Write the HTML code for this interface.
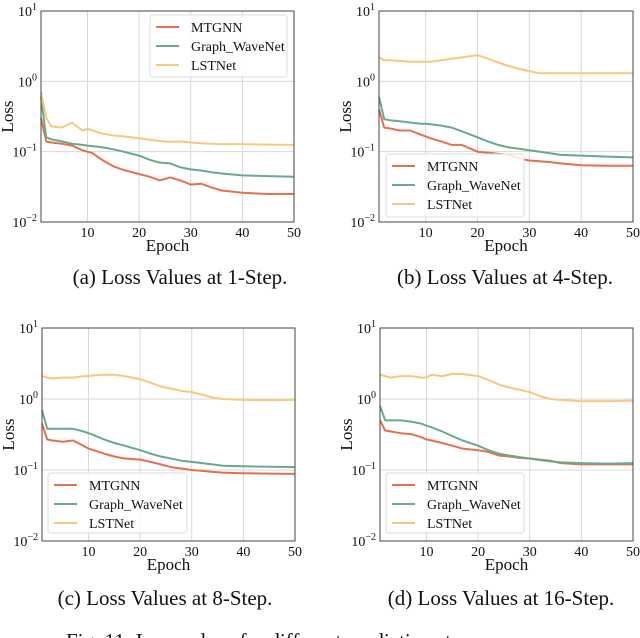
<!DOCTYPE html>
<html><head><meta charset="utf-8"><style>
html,body{margin:0;padding:0;background:#fff;}
svg{display:block;font-family:"Liberation Serif",serif;}
</style></head><body>
<svg id="fig" width="640" height="638" viewBox="0 0 640 638" xmlns="http://www.w3.org/2000/svg"></svg>
<script>
const epochs=[1,2,3,5,7,9,10,11,13,15,17,20,22,24,26,28,30,32,34,36,40,45,50];
const seriesNames=["MTGNN","Graph_WaveNet","LSTNet"];
const a_MTGNN=[0.30,0.14,0.135,0.13,0.122,0.105,0.1,0.095,0.075,0.062,0.055,0.048,0.044,0.039,0.043,0.039,0.034,0.035,0.031,0.028,0.026,0.025,0.025];
const a_GWN=[0.6,0.16,0.15,0.14,0.13,0.125,0.122,0.12,0.115,0.108,0.1,0.088,0.077,0.07,0.068,0.06,0.056,0.054,0.051,0.049,0.046,0.045,0.044];
const a_LST=[0.7,0.3,0.23,0.22,0.26,0.2,0.21,0.2,0.18,0.17,0.165,0.155,0.148,0.142,0.138,0.14,0.135,0.132,0.13,0.128,0.128,0.126,0.125];
const b_MTGNN=[0.4,0.22,0.215,0.2,0.2,0.175,0.165,0.155,0.14,0.125,0.125,0.1,0.097,0.093,0.09,0.08,0.075,0.073,0.071,0.068,0.064,0.063,0.063];
const b_GWN=[0.6,0.29,0.28,0.27,0.26,0.25,0.25,0.245,0.235,0.22,0.195,0.16,0.14,0.125,0.115,0.11,0.105,0.1,0.095,0.09,0.088,0.085,0.083];
const b_LST=[2.2,2.0,2.0,1.95,1.9,1.9,1.9,1.9,2.0,2.1,2.2,2.35,2.1,1.85,1.65,1.5,1.4,1.3,1.3,1.3,1.3,1.3,1.3];
const c_MTGNN=[0.45,0.27,0.26,0.25,0.26,0.22,0.2,0.19,0.17,0.155,0.145,0.14,0.13,0.12,0.11,0.105,0.1,0.097,0.094,0.092,0.09,0.089,0.088];
const c_GWN=[0.7,0.38,0.38,0.38,0.38,0.35,0.33,0.31,0.27,0.24,0.22,0.19,0.17,0.155,0.145,0.135,0.13,0.125,0.12,0.115,0.113,0.111,0.11];
const c_LST=[2.1,2.0,1.95,2.0,2.0,2.1,2.1,2.15,2.2,2.2,2.1,1.9,1.7,1.5,1.4,1.3,1.25,1.15,1.05,1.0,0.97,0.96,0.97];
const d_MTGNN=[0.5,0.36,0.35,0.33,0.32,0.29,0.27,0.26,0.24,0.22,0.2,0.19,0.18,0.16,0.155,0.148,0.145,0.14,0.135,0.125,0.12,0.12,0.12];
const d_GWN=[0.8,0.5,0.5,0.5,0.48,0.45,0.42,0.4,0.35,0.3,0.26,0.22,0.19,0.17,0.16,0.152,0.145,0.138,0.132,0.128,0.125,0.123,0.125];
const d_LST=[2.2,2.1,2.0,2.1,2.1,2.0,2.0,2.2,2.1,2.25,2.25,2.1,1.85,1.6,1.45,1.35,1.25,1.1,1.0,0.97,0.93,0.93,0.95];
const xTicks=[10,20,30,40,50];
const yExps=[1,0,-1,-2];
const captions=["(a) Loss Values at 1-Step.","(b) Loss Values at 4-Step.","(c) Loss Values at 8-Step.","(d) Loss Values at 16-Step."];
const colors=["#e5704f","#6aaa8b","#f6c97f"];
const NS="http://www.w3.org/2000/svg";
const svg=document.getElementById('fig');
function mk(tag,attrs,parent,text){const e=document.createElementNS(NS,tag);for(const k in attrs)e.setAttribute(k,attrs[k]);if(text!==undefined)e.textContent=text;(parent||svg).appendChild(e);return e;}
const panels=[
 {id:'a',x0:41,x1:294,y0:11,y1:222,data:[a_MTGNN,a_GWN,a_LST],leg:[150,15,137,62],cap:[180,284]},
 {id:'b',x0:379,x1:633,y0:11,y1:222,data:[b_MTGNN,b_GWN,b_LST],leg:[386,154,138,63],cap:[505,284]},
 {id:'c',x0:42,x1:295,y0:328,y1:541,data:[c_MTGNN,c_GWN,c_LST],leg:[48,473,139,60],cap:[165,605]},
 {id:'d',x0:380,x1:633,y0:328,y1:541,data:[d_MTGNN,d_GWN,d_LST],leg:[386,473,138,60],cap:[501,605]}
];
panels.forEach((p,pi)=>{
 const g=mk('g',{});
 
 
 const xs=e=>p.x0+(e-1)/49*(p.x1-p.x0);
 const ys=v=>p.y0+(1-Math.log10(v))/3*(p.y1-p.y0);
 xTicks.forEach(t=>{
  const l=mk('line',{x1:xs(t),x2:xs(t),y1:p.y0,y2:p.y1,stroke:'#d8d8d8','stroke-width':1},g);
  
  const tx=mk('text',{x:xs(t),y:p.y1+15,'text-anchor':'middle','font-size':14,fill:'#111'},g,String(t));
  
 });
 yExps.forEach(e=>{
  const y=ys(Math.pow(10,e));
  const l=mk('line',{x1:p.x0,x2:p.x1,y1:y,y2:y,stroke:'#d8d8d8','stroke-width':1},g);
  
  const tx=mk('text',{x:p.x0-4,y:y+5,'text-anchor':'end','font-size':14,fill:'#111'},g);
  
  mk('tspan',{},tx,'10');
  mk('tspan',{dy:-6,'font-size':10},tx,String(e).replace('-','\u2212'));
 });
 p.data.forEach((arr,si)=>{
  const pts=arr.map((v,i)=>xs(epochs[i]).toFixed(1)+','+ys(v).toFixed(1)).join(' ');
  const pl=mk('polyline',{points:pts,fill:'none',stroke:colors[si],'stroke-width':2,'stroke-linejoin':'round'},g);
  
  
 });
 const fr=mk('rect',{x:p.x0,y:p.y0,width:p.x1-p.x0,height:p.y1-p.y0,fill:'none',stroke:'#444','stroke-width':1},g);
 
 const [lx,ly,lw,lh]=p.leg;
 const lg=mk('g',{},g);
 
 mk('rect',{x:lx,y:ly,width:lw,height:lh,rx:3,fill:'#fff','fill-opacity':0.85,stroke:'#ddd'},lg);
 seriesNames.forEach((n,si)=>{
  const cy=ly+12+si*19;
  const en=mk('g',{},lg);
  
  
  mk('line',{x1:lx+6,x2:lx+29,y1:cy,y2:cy,stroke:colors[si],'stroke-width':2},en);
  mk('text',{x:lx+41,y:cy+5,'font-size':14,fill:'#111'},en,n);
 });
 const xl=mk('text',{x:(p.x0+p.x1)/2,y:p.y1+29,'text-anchor':'middle','font-size':17,fill:'#111'},g,'Epoch');
 
 const yc=(p.y0+p.y1)/2;
 const yl=mk('text',{x:p.x0-28,y:yc,'text-anchor':'middle','font-size':17,fill:'#111',transform:`rotate(-90 ${p.x0-28} ${yc})`},g,'Loss');
 
 const cp=mk('text',{x:p.cap[0],y:p.cap[1],'text-anchor':'middle','font-size':21,fill:'#111'},g,captions[pi]);
 
});
const fc=mk('text',{x:66,y:648,'font-size':21,fill:'#111'},svg,'Fig. 11: Loss values for different prediction steps.');


</script>
</body></html>
